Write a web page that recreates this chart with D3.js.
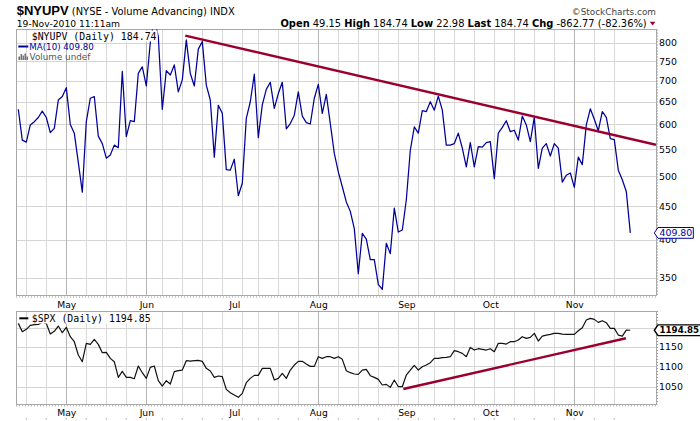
<!DOCTYPE html>
<html><head><meta charset="utf-8">
<script src="https://cdn.jsdelivr.net/npm/d3@7/dist/d3.min.js"></script>
<style>
body{margin:0;background:#fff}
svg{display:block}
text{white-space:pre}
</style>
</head><body>
<svg id="c" width="700" height="421"></svg>
<script>
// ---------- data ----------
const startDate = "2010-04-15";
const endDate = "2010-11-19";
const holidays = ["2010-05-31", "2010-07-05", "2010-09-06"];

// MA(10) of $NYUPV (NYSE volume advancing), one value per trading day
const nyupvMA10 = [
  633,568,564,599,606,615,629,615,583,592,
  654,662,683,600,582,525,473,606,658,662,
  576,561,533,539,558,553,723,575,608,606,
  718,735,687,801,870,817,633,725,714,740,
  673,702,808,718,687,782,803,689,654,535,
  642,624,512,511,531,467,488,613,650,716,
  573,643,679,696,635,669,696,591,602,620,
  673,618,604,601,658,691,624,667,602,542,
  508,482,457,442,416,355,409,401,373,373,
  342,336,395,381,447,411,414,460,548,595,
  582,630,628,650,631,663,631,558,558,561,
  582,552,517,563,517,555,554,563,565,496,
  582,594,608,585,588,568,618,599,565,615,
  514,552,561,537,561,552,490,502,506,481,
  535,521,599,634,611,587,628,615,571,569,
  511,494,474,409.8
];

// $SPX daily close
const spxClose = [
  1213.8,1190.9,1197.3,1208.3,1210.1,1211.0,1217.0,1213.8,1184.5,1191.8,
  1206.4,1188.2,1202.8,1177.3,1163.9,1129.0,1111.8,1159.5,1156.8,1170.2,
  1156.8,1135.0,1135.9,1120.4,1111.8,1072.7,1087.5,1072.7,1072.7,1069.4,
  1100.9,1084.2,1070.2,1097.5,1100.9,1064.5,1051.6,1064.5,1056.4,1086.7,
  1089.2,1090.8,1114.4,1113.5,1114.4,1115.2,1112.7,1095.0,1088.3,1072.7,
  1076.0,1074.3,1043.6,1035.7,1030.2,1024.7,1034.1,1059.7,1070.2,1077.6,
  1077.6,1095.0,1095.0,1095.0,1066.1,1070.2,1082.5,1070.2,1090.8,1103.4,
  1112.7,1112.7,1105.9,1100.0,1100.0,1124.6,1120.4,1124.6,1124.6,1120.4,
  1124.6,1117.8,1089.2,1084.2,1080.9,1080.1,1090.8,1092.5,1076.8,1072.7,
  1067.8,1054.0,1055.6,1048.4,1066.1,1050.0,1050.0,1078.4,1090.8,1102.6,
  1090.8,1099.2,1103.4,1109.3,1120.4,1120.4,1122.1,1122.9,1124.6,1140.2,
  1137.6,1133.3,1124.6,1148.9,1141.9,1145.4,1143.7,1141.9,1145.4,1137.6,
  1159.5,1159.5,1157.7,1163.9,1163.9,1168.4,1177.3,1172.9,1175.5,1186.4,
  1165.7,1179.1,1181.8,1183.6,1186.4,1186.4,1184.5,1183.6,1183.6,1183.6,
  1193.6,1201.8,1223.1,1227.8,1225.0,1216.6,1221.3,1215.7,1200.0,1200.0,
  1181.8,1179.1,1195.4,1194.85
];

const topTicks = [350, 400, 450, 500, 550, 600, 650, 700, 750, 800];
const bottomGridTicks = [1050, 1100, 1150, 1200];
const bottomTickLabels = [1050, 1100, 1150];
const monthLabels = ["May", "Jun", "Jul", "Aug", "Sep", "Oct", "Nov"];

// trend lines: [trading-day index, value]
const nyupvTrend = [[41.75, 820], [159.4, 558.6]];
const spxTrend = [[96.25, 1044.5], [151.9, 1173.1]];

const headerStats = [["Open", "49.15"], ["High", "184.74"], ["Low", "22.98"], ["Last", "184.74"], ["Chg", "-862.77 (-82.36%)"]];
const symbolTitle = "$NYUPV";
const symbolDesc = "(NYSE - Volume Advancing) INDX";
const stamp = "19-Nov-2010 11:11am";
const legendMain = "$NYUPV (Daily) 184.74";
const legendMA = "MA(10) 409.80";
const legendVol = "Volume undef";
const legendSpx = "$SPX (Daily) 1194.85";

// ---------- layout ----------
const svg = d3.select("#c");
const P = {left: 16, right: 656, topT: 29.5, topB: 295.5, botT: 311, botB: 404.3};
const SANS = "'DejaVu Sans', Verdana, sans-serif";
const MONO = "'DejaVu Sans Mono', monospace";
const NAVY = "#000099", MAROON = "#99002e";

const fmt = d3.utcFormat("%Y-%m-%d");
const hol = new Set(holidays);
const days = d3.utcDay.range(d3.utcParse("%Y-%m-%d")(startDate), d3.utcDay.offset(d3.utcParse("%Y-%m-%d")(endDate), 1))
  .filter(d => d.getUTCDay() !== 0 && d.getUTCDay() !== 6 && !hol.has(fmt(d)));

const x = d3.scaleLinear().domain([-0.575, 159.425]).range([P.left, P.right]);
const yT = d3.scaleLog().domain([328.8, 838]).range([P.topB, P.topT]);
const yB = d3.scaleLog().domain([1008.5, 1248.7]).range([P.botB, P.botT]);

const weekStarts = [], monthStarts = [];
days.forEach((d, i) => {
  if (i === 0) return;
  if (+d3.utcMonday.floor(d) !== +d3.utcMonday.floor(days[i - 1])) weekStarts.push(i);
  if (d.getUTCMonth() !== days[i - 1].getUTCMonth()) monthStarts.push(i);
});

// clip paths
const defs = svg.append("defs");
defs.append("clipPath").attr("id", "clipT").append("rect")
  .attr("x", P.left).attr("y", P.topT).attr("width", P.right - P.left).attr("height", P.topB - P.topT);
defs.append("clipPath").attr("id", "clipB").append("rect")
  .attr("x", P.left).attr("y", P.botT).attr("width", P.right - P.left).attr("height", P.botB - P.botT);

function panel(top, bottom, yScale, gridVals, clipId) {
  const g = svg.append("g");
  // horizontal grid
  g.append("g").attr("transform", `translate(${P.left},0)`)
    .call(d3.axisRight(yScale).tickValues(gridVals).tickSize(P.right - P.left).tickFormat(""))
    .call(a => a.select(".domain").remove())
    .call(a => a.selectAll("line").attr("stroke", "#d4d4d4").attr("shape-rendering", "crispEdges"));
  // vertical grid (weekly, months darker)
  g.append("g").attr("transform", `translate(0,${bottom})`)
    .call(d3.axisBottom(x).tickValues(weekStarts).tickSize(-(bottom - top)).tickFormat(""))
    .call(a => a.select(".domain").remove())
    .call(a => a.selectAll("line")
      .attr("stroke", d => monthStarts.includes(d) ? "#b4b4b4" : "#d8d8d8")
      .attr("shape-rendering", "crispEdges"));
  // border
  g.append("rect").attr("x", P.left).attr("y", top).attr("width", P.right - P.left).attr("height", bottom - top)
    .attr("fill", "none").attr("stroke", "#a8a8a8").attr("shape-rendering", "crispEdges");
  // dotted minor ticks on right and bottom edges
  g.append("line").attr("x1", P.right + 1.5).attr("x2", P.right + 1.5).attr("y1", top).attr("y2", bottom)
    .attr("stroke", "#999").attr("stroke-dasharray", "1,2");
  g.append("line").attr("x1", P.left).attr("x2", P.right).attr("y1", bottom + 1.5).attr("y2", bottom + 1.5)
    .attr("stroke", "#999").attr("stroke-dasharray", "1,2");
  return g;
}

const gT = panel(P.topT, P.topB, yT, topTicks, "clipT");
const gB = panel(P.botT, P.botB, yB, bottomGridTicks, "clipB");

// right axes labels
svg.append("g").attr("transform", `translate(${P.right},0)`)
  .call(d3.axisRight(yT).tickValues(topTicks).tickSize(0).tickPadding(3).tickFormat(d3.format("d")))
  .call(a => a.select(".domain").remove())
  .call(a => a.selectAll("text").attr("font-family", SANS).attr("font-size", 9.4).attr("fill", "#000"));
svg.append("g").attr("transform", `translate(${P.right},0)`)
  .call(d3.axisRight(yB).tickValues(bottomTickLabels).tickSize(0).tickPadding(3).tickFormat(d3.format("d")))
  .call(a => a.select(".domain").remove())
  .call(a => a.selectAll("text").attr("font-family", SANS).attr("font-size", 9.4).attr("fill", "#000"));

// month labels
function monthAxis(yBase) {
  svg.append("g").attr("transform", `translate(0,${yBase})`)
    .call(d3.axisBottom(x).tickValues(monthStarts).tickSize(0).tickFormat((d, i) => monthLabels[i]))
    .call(a => a.select(".domain").remove())
    .call(a => a.selectAll("text").attr("y", 0).attr("dy", null)
      .attr("font-family", SANS).attr("font-size", 9.2).attr("fill", "#000"));
}
monthAxis(307.5);
monthAxis(416);
// weekly small ticks at the very bottom
svg.append("g").selectAll("line").data(weekStarts).join("line")
  .attr("x1", d => x(d)).attr("x2", d => x(d)).attr("y1", 418).attr("y2", 419.5)
  .attr("stroke", "#aaa");

// ---------- series ----------
const lineT = d3.line().x((d, i) => x(i)).y(d => yT(d));
gT.append("path").datum(nyupvMA10).attr("clip-path", "url(#clipT)")
  .attr("d", lineT).attr("fill", "none").attr("stroke", NAVY).attr("stroke-width", 1.25)
  .attr("stroke-linejoin", "round");
gT.append("path").datum(nyupvTrend).attr("clip-path", "url(#clipT)")
  .attr("d", d3.line().x(d => x(d[0])).y(d => yT(d[1])))
  .attr("stroke", MAROON).attr("stroke-width", 2.4).attr("fill", "none");

const lineB = d3.line().x((d, i) => x(i)).y(d => yB(d));
gB.append("path").datum(spxClose).attr("clip-path", "url(#clipB)")
  .attr("d", lineB).attr("fill", "none").attr("stroke", "#111").attr("stroke-width", 1.2)
  .attr("stroke-linejoin", "round");
gB.append("path").datum(spxTrend).attr("clip-path", "url(#clipB)")
  .attr("d", d3.line().x(d => x(d[0])).y(d => yB(d[1])))
  .attr("stroke", MAROON).attr("stroke-width", 2.4).attr("fill", "none");

// ---------- legends ----------
function bgText(g, tx, ty, str, attrs) {
  const t = g.append("text").attr("x", tx).attr("y", ty).text(str);
  Object.entries(attrs).forEach(([k, v]) => t.attr(k, v));
  const bb = t.node().getBBox();
  g.insert("rect", () => t.node()).attr("x", bb.x - 1).attr("y", bb.y).attr("width", bb.width + 2).attr("height", bb.height)
    .attr("fill", "#fff");
  return t;
}
const lg = svg.append("g");
bgText(lg, 31.7, 39.5, legendMain, {"font-family": MONO, "font-size": 9.9, fill: "#000"});
lg.append("line").attr("x1", 18.3).attr("x2", 28.3).attr("y1", 46.5).attr("y2", 46.5).attr("stroke", NAVY).attr("stroke-width", 2);
lg.append("text").attr("x", 29.3).attr("y", 49.8).text(legendMA)
  .attr("font-family", SANS).attr("font-size", 8.7).attr("fill", NAVY);
// volume icon
[[18.5, 3.5], [20.5, 6], [22.5, 4.5], [24.5, 6.5], [26.5, 3.5]].forEach(([bx, bh]) => {
  lg.append("rect").attr("x", bx).attr("y", 60 - bh).attr("width", 1.4).attr("height", bh).attr("fill", "#666");
});
lg.append("text").attr("x", 29.6).attr("y", 60).text(legendVol)
  .attr("font-family", SANS).attr("font-size", 8.8).attr("fill", "#555");

bgText(lg, 31.7, 321.5, legendSpx, {"font-family": MONO, "font-size": 9.9, fill: "#000"});
lg.append("line").attr("x1", 19.3).attr("x2", 28.3).attr("y1", 318.3).attr("y2", 318.3).attr("stroke", "#000").attr("stroke-width", 2);

// ---------- last value boxes ----------
function priceTag(yv, label, color, bold, fs, right) {
  const g = svg.append("g");
  const tip = 654.3, bx = 658, h = 5.4;
  g.append("path").attr("d", `M${tip},${yv}L${bx},${yv - h}L${right},${yv - h}L${right},${yv + h}L${bx},${yv + h}Z`)
    .attr("fill", "#fff").attr("stroke", color).attr("stroke-width", bold ? 1.4 : 1);
  g.append("text").attr("x", 659.5).attr("y", yv).attr("dy", "0.36em").text(label)
    .attr("font-family", SANS).attr("font-size", fs).attr("font-weight", bold ? "bold" : "normal").attr("fill", color);
}
priceTag(yT(nyupvMA10[nyupvMA10.length - 1]), d3.format(".2f")(nyupvMA10[nyupvMA10.length - 1]), NAVY, false, 9.4, 693.3);
priceTag(yB(spxClose[spxClose.length - 1]), d3.format(".2f")(spxClose[spxClose.length - 1]), "#000", true, 8.7, 701);

// ---------- header ----------
const hd = svg.append("g");
const tt = hd.append("text").attr("x", 16.7).attr("y", 15);
tt.append("tspan").text(symbolTitle).attr("font-family", "'Liberation Sans', Arial, sans-serif").attr("font-weight", "bold").attr("font-size", 13);
tt.append("tspan").text(" " + symbolDesc).attr("font-family", SANS).attr("font-size", 9.9);
hd.append("text").attr("x", 16.7).attr("y", 26.7).text(stamp).attr("font-family", SANS).attr("font-size", 9.2);

const st = hd.append("text").attr("x", 646.7).attr("y", 26.7).attr("text-anchor", "end").attr("font-family", SANS).attr("font-size", 9.9);
headerStats.forEach(([k, v], i) => {
  st.append("tspan").text(k).attr("font-weight", "bold");
  st.append("tspan").text(" " + v + (i < headerStats.length - 1 ? " " : ""));
});
hd.append("path").attr("d", "M649.8,21.8L655.4,21.8L652.6,25.4Z").attr("fill", MAROON);
hd.append("text").attr("x", 656).attr("y", 15).attr("text-anchor", "end").text("\u00A9StockCharts.com")
  .attr("font-family", SANS).attr("font-size", 8.9).attr("fill", "#444");
</script>
</body></html>
